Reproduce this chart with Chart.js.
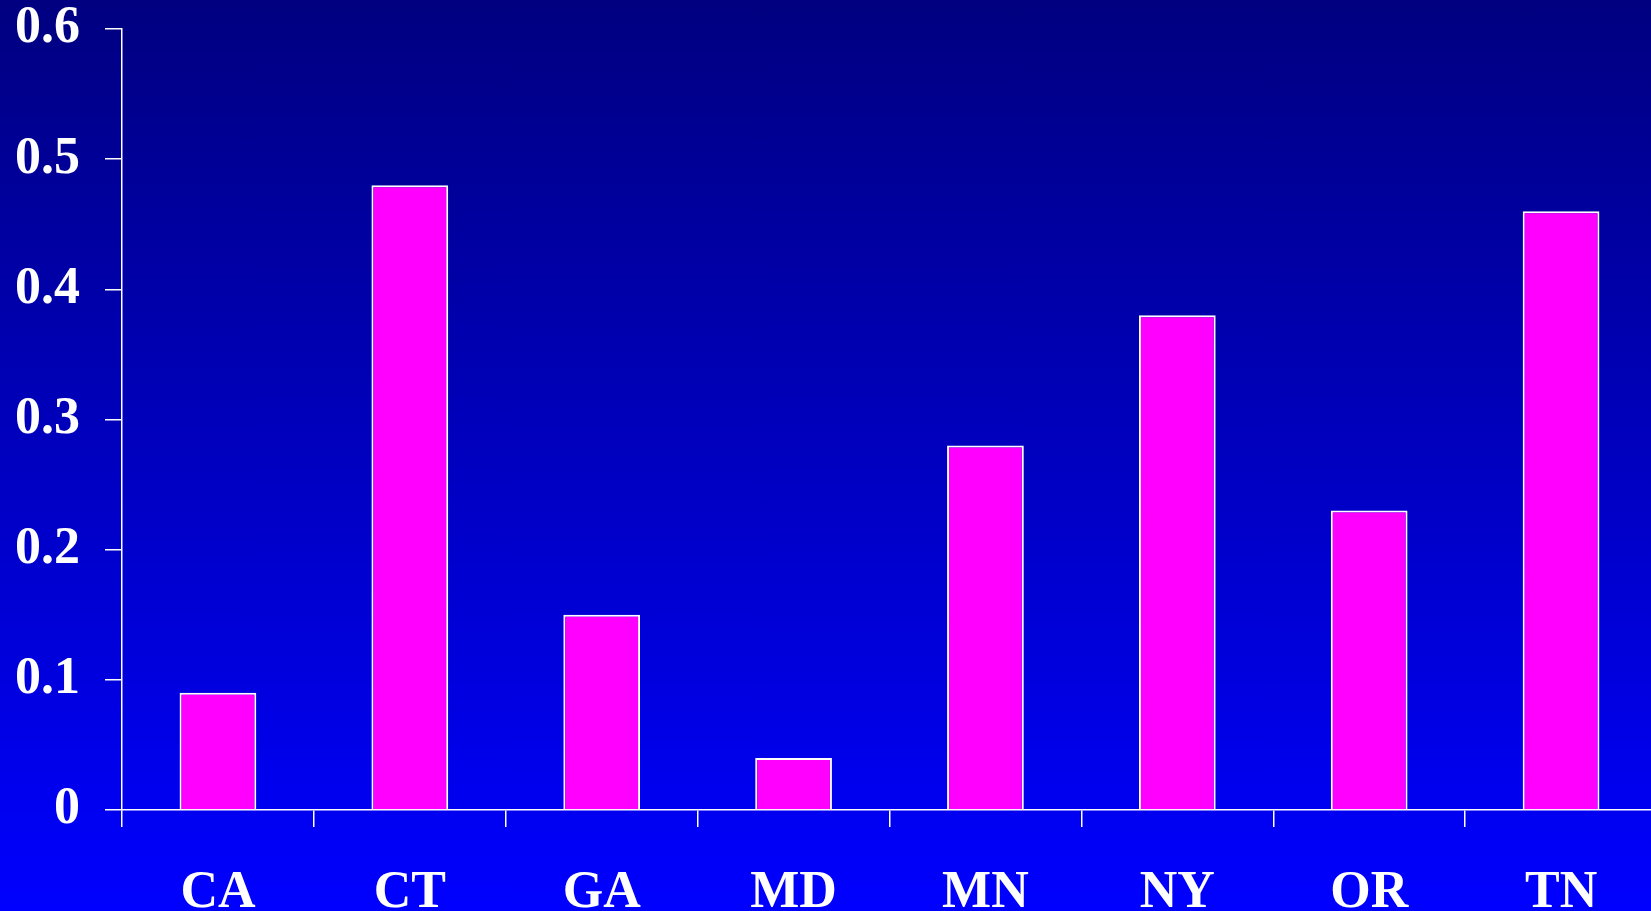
<!DOCTYPE html>
<html>
<head>
<meta charset="utf-8">
<script src="https://cdn.jsdelivr.net/npm/chart.js@4/dist/chart.umd.min.js"></script>
<style>
  html, body { margin: 0; padding: 0; overflow: hidden; }
  #wrap {
    width: 1651px;
    height: 911px;
    overflow: hidden;
    background: linear-gradient(to bottom, #000080 0%, #0000ff 100%);
  }
  #chart { display: block; }
</style>
</head>
<body>
<!-- canvas is a bit wider than the page so the x axis runs off the right edge -->
<div id="wrap"><canvas id="chart" width="1657" height="911"></canvas></div>
<script>
// Chart data
const states = ['CA', 'CT', 'GA', 'MD', 'MN', 'NY', 'OR', 'TN'];
const rates = [0.09, 0.48, 0.15, 0.04, 0.28, 0.38, 0.23, 0.46];
const yTicks = [0, 0.1, 0.2, 0.3, 0.4, 0.5, 0.6];

const labelFont = { family: '"Liberation Serif", "Times New Roman", serif', size: 52, weight: 'bold', lineHeight: 1 };

new Chart(document.getElementById('chart'), {
  type: 'bar',
  data: {
    labels: states,
    datasets: [{
      data: rates,
      backgroundColor: '#ff00ff',
      borderColor: '#ffffff',
      borderWidth: 2,
      borderSkipped: 'bottom',
      categoryPercentage: 1,
      barPercentage: 0.4
    }]
  },
  options: {
    responsive: false,
    animation: false,
    layout: { padding: { top: 29, right: 0, left: 0, bottom: 0 } },
    plugins: { legend: { display: false }, tooltip: { enabled: false } },
    scales: {
      x: {
        grid: { display: true, drawOnChartArea: false, drawTicks: true, tickLength: 17, color: '#ffffff', lineWidth: 1.5, offset: true },
        border: { display: true, color: '#ffffff', width: 1.5 },
        ticks: { color: '#ffffff', font: labelFont, padding: 41, maxRotation: 0 },
        afterFit: (scale) => { scale.height = 101; scale.paddingLeft = 0; scale.paddingRight = 0; }
      },
      y: {
        min: 0,
        max: 0.6,
        afterBuildTicks: (scale) => { scale.ticks = yTicks.map(v => ({ value: v })); },
        grid: { display: true, drawOnChartArea: false, drawTicks: true, tickLength: 17, color: '#ffffff', lineWidth: 1.5 },
        border: { display: true, color: '#ffffff', width: 1.5 },
        ticks: { color: '#ffffff', font: labelFont, padding: 25, callback: (v) => String(v) },
        afterFit: (scale) => { scale.width = 122; scale.paddingTop = 0; scale.paddingBottom = 0; }
      }
    }
  }
});
</script>
</body>
</html>
